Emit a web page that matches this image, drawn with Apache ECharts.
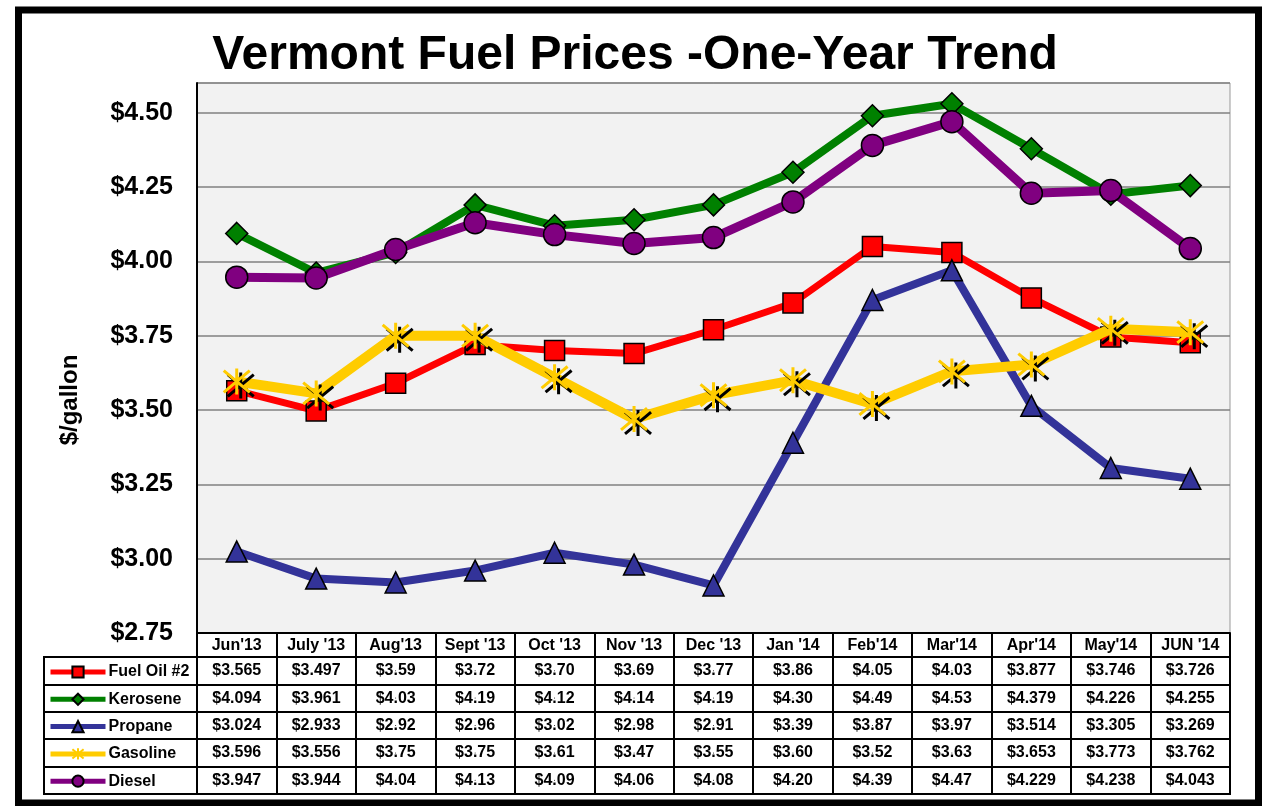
<!DOCTYPE html>
<html><head><meta charset="utf-8">
<script src="https://cdn.jsdelivr.net/npm/echarts@6/dist/echarts.min.js"></script>
<style>html,body{margin:0;padding:0;background:#fff}#c{width:1262px;height:806px}</style>
</head><body><div id="c"></div><script>
const months = ["Jun'13","July '13","Aug'13","Sept '13","Oct '13","Nov '13","Dec '13","Jan '14","Feb'14","Mar'14","Apr'14","May'14","JUN '14"];
const fuelOil  = [3.565,3.497,3.59,3.72,3.70,3.69,3.77,3.86,4.05,4.03,3.877,3.746,3.726];
const kerosene = [4.094,3.961,4.03,4.19,4.12,4.14,4.19,4.30,4.49,4.53,4.379,4.226,4.255];
const propane  = [3.024,2.933,2.92,2.96,3.02,2.98,2.91,3.39,3.87,3.97,3.514,3.305,3.269];
const gasoline = [3.596,3.556,3.75,3.75,3.61,3.47,3.55,3.60,3.52,3.63,3.653,3.773,3.762];
const diesel   = [3.947,3.944,4.04,4.13,4.09,4.06,4.08,4.20,4.39,4.47,4.229,4.238,4.043];
const seriesNames = ['Fuel Oil #2','Kerosene','Propane','Gasoline','Diesel'];
const yMin = 2.75, yMax = 4.60, yStep = 0.25;

const FONT = "'Liberation Sans', Arial, sans-serif";
const allData = [fuelOil, kerosene, propane, gasoline, diesel];
function fmt(v){
  const c = v*100;
  return '$' + (Math.abs(c - Math.round(c)) < 1e-6 ? v.toFixed(2) : v.toFixed(3));
}
const tableData = [];
allData.forEach((arr, s) => arr.forEach((v, i) => tableData.push([i, seriesNames[s], v])));

const starPath = 'path://M0,0L10,10M10,0L0,10M5,-1L5,11';
const styles = [
  {color:'#ff0000', width:7, symbol:'rect', size:20},
  {color:'#008000', width:8, symbol:'diamond', size:22},
  {color:'#333399', width:8, symbol:'triangle', size:21},
  {color:'#ffcc00', width:10, symbol:starPath, size:26},
  {color:'#800080', width:9, symbol:'circle', size:22}
];
const lineSeries = allData.map((arr, s) => {
  const st = styles[s];
  const o = {
    name: seriesNames[s], type:'line', data: arr, xAxisIndex:0, yAxisIndex:0,
    symbol: st.symbol, symbolSize: st.size, showAllSymbol:true,
    lineStyle:{color:st.color, width:st.width},
    itemStyle:{color:st.color, borderColor:'#000', borderWidth:1.5},
    z: 3 + s
  };
  if (s === 3) {
    o.itemStyle = {color:st.color, borderColor:st.color, borderWidth:3,
      shadowColor:'#000', shadowOffsetX:4, shadowOffsetY:4, shadowBlur:0};
  }
  return o;
});

const chart = echarts.init(document.getElementById('c'));
chart.setOption({
  animation:false,
  backgroundColor:'#fff',
  textStyle:{fontFamily:FONT},
  title:{text:'Vermont Fuel Prices -One-Year Trend', left:630, top:27, textAlign:'center',
    textStyle:{fontFamily:FONT, fontWeight:'bold', fontSize:48, color:'#000'}},
  legend:{data:seriesNames, orient:'vertical', left:48, top:664, height:140, padding:0,
    itemWidth:55, itemHeight:14, itemGap:11.3,
    textStyle:{fontFamily:FONT, fontWeight:'bold', fontSize:16, lineHeight:14, color:'#000', padding:[0,0,0,-2]},
    lineStyle:{width:5}},
  grid:[
    {left:197, top:83, width:1033, height:550, show:true, backgroundColor:'#f2f2f2', borderColor:'#999', borderWidth:1},
    {left:197, top:657, width:1033, height:137, show:true, borderColor:'#000', borderWidth:2},
    {left:44, top:657, width:153, height:137, show:true, borderColor:'#000', borderWidth:2}
  ],
  xAxis:[
    {type:'category', data:months, gridIndex:0, boundaryGap:true,
     axisLine:{lineStyle:{color:'#000', width:2}},
     axisTick:{show:true, length:24, lineStyle:{color:'#000', width:2}},
     axisLabel:{fontFamily:FONT, fontWeight:'bold', fontSize:16, color:'#000', margin:5, interval:0},
     splitLine:{show:false}},
    {type:'category', data:months, gridIndex:1, boundaryGap:true,
     axisLine:{show:false}, axisTick:{show:false}, axisLabel:{show:false},
     splitLine:{show:true, interval:0, lineStyle:{color:'#000', width:2}}},
    {type:'category', data:['x'], gridIndex:2, show:false}
  ],
  yAxis:[
    {type:'value', gridIndex:0, min:yMin, max:yMax, interval:yStep,
     axisLine:{show:true, lineStyle:{color:'#000', width:2}},
     axisTick:{show:false},
     axisLabel:{fontFamily:FONT, fontWeight:'bold', fontSize:25, color:'#000', margin:24, showMaxLabel:false,
       formatter:v => '$' + v.toFixed(2)},
     splitLine:{show:true, lineStyle:{color:'#808080', width:1.5}}},
    {type:'category', data:seriesNames, gridIndex:1, inverse:true,
     axisLine:{show:false}, axisTick:{show:false}, axisLabel:{show:false},
     splitLine:{show:true, interval:0, lineStyle:{color:'#000', width:2}}},
    {type:'category', data:seriesNames, gridIndex:2, inverse:true,
     axisLine:{show:false}, axisTick:{show:false}, axisLabel:{show:false},
     splitLine:{show:true, interval:0, lineStyle:{color:'#000', width:2}}}
  ],
  series: lineSeries.concat([{
    name:'table', type:'scatter', xAxisIndex:1, yAxisIndex:1, data:tableData, silent:true,
    symbolSize:1, itemStyle:{color:'#000', opacity:1}, z:10,
    label:{show:true, position:'inside', fontFamily:FONT, fontWeight:'bold', fontSize:16, color:'#000',
      textBorderWidth:0, opacity:1, formatter:p => fmt(p.value[2])}
  }]),
  graphic:[
    {type:'text', x:70, y:400, rotation:Math.PI/2,
     style:{text:'$/gallon', font:"bold 24px " + FONT, fill:'#000', textAlign:'center', textVerticalAlign:'middle'}},
    {type:'rect', shape:{x:18.5, y:10, width:1240, height:793}, style:{fill:'none', stroke:'#000', lineWidth:7}, z:100}
  ]
});
</script></body></html>
